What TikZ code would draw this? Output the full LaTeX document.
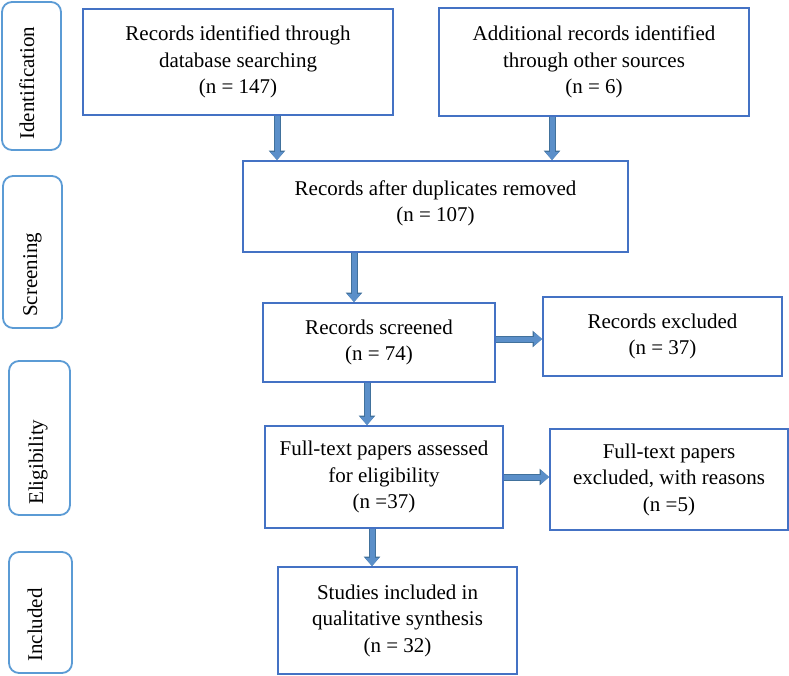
\documentclass[tikz,border=0pt]{standalone}
\usepackage{fontspec}
\setmainfont{Liberation Serif}
\usetikzlibrary{arrows.meta}
\definecolor{boxblue}{HTML}{4472C4}
\definecolor{sideblue}{HTML}{5B9BD5}
\definecolor{arrfill}{HTML}{5B8FC9}
\definecolor{arredge}{HTML}{41719C}
\begin{document}
\begin{tikzpicture}[x=1pt,y=-1pt,
  every node/.style={font=\fontsize{21}{26.5}\selectfont},
  mainbox/.style={draw=boxblue, line width=1.8pt, align=center, inner sep=0pt},
  sidebox/.style={draw=sideblue, line width=1.8pt, rounded corners=10pt, inner sep=0pt},
  sidetext/.style={rotate=90, anchor=base west, inner sep=0pt},
  blockarrow/.style={draw=arrfill, line width=5pt, -{Triangle[width=13pt,length=8pt]},
    preaction={draw=arredge, line width=7pt, -{Triangle[width=16pt,length=9.5pt]}}}
]
\fill[white] (0,0) rectangle (789,675);
\useasboundingbox (0,0) rectangle (789,675);

% side labels
\node[sidebox, minimum width=59pt, minimum height=148pt] (s1) at (31.5,76) {};
\node[sidebox, minimum width=59pt, minimum height=152pt] (s2) at (32.5,252) {};
\node[sidebox, minimum width=61pt, minimum height=154pt] (s3) at (39.5,438) {};
\node[sidebox, minimum width=63pt, minimum height=121pt] (s4) at (40.5,612.5) {};
\node[sidetext] (t1) at (34,140) {Identification};
\node[sidetext] (t2) at (37,317) {Screening};
\node[sidetext] (t3) at (43,505) {Eligibility};
\node[sidetext] (t4) at (42,662) {Included};

% main boxes
\node[mainbox, minimum width=310pt, minimum height=106pt] (b1) at (238,62)
  {Records identified through\\database searching\\(n = 147)};
\node[mainbox, minimum width=310pt, minimum height=108pt] (b2) at (594,62)
  {Additional records identified\\through other sources\\(n = 6)};
\node[mainbox, minimum width=385pt, minimum height=91pt] (b3) at (435.5,206.5)
  {Records after duplicates removed\\(n = 107)\\[-16pt]};
\node[mainbox, minimum width=232pt, minimum height=79pt] (b4) at (379,342.5)
  {Records screened\\(n = 74)};
\node[mainbox, minimum width=239pt, minimum height=79pt] (b4x) at (662.5,336.5)
  {Records excluded\\(n = 37)};
\node[mainbox, minimum width=238pt, minimum height=102pt] (b5) at (384,477)
  {Full-text papers assessed\\for eligibility\\(n =37)};
\node[mainbox, minimum width=238pt, minimum height=101pt] (b6) at (669,479.5)
  {Full-text papers\\excluded, with reasons\\(n =5)};
\node[mainbox, minimum width=239pt, minimum height=107pt] (b7) at (397.5,620.5)
  {Studies included in\\qualitative synthesis\\(n = 32)};

% arrow guide coordinates
\coordinate (x1) at (277,0);
\coordinate (x2) at (552,0);
\coordinate (x3) at (354,0);
\coordinate (x4) at (367,0);
\coordinate (x5) at (372,0);
\coordinate (y1) at (0,339);

\draw[blockarrow] (b1.south -| x1) -- (b3.north -| x1);
\draw[blockarrow] (b2.south -| x2) -- (b3.north -| x2);
\draw[blockarrow] (b3.south -| x3) -- (b4.north -| x3);
\draw[blockarrow] (b4.south -| x4) -- (b5.north -| x4);
\draw[blockarrow] (b5.south -| x5) -- (b7.north -| x5);
\draw[blockarrow] (b4.east |- y1) -- (b4x.west |- y1);
\draw[blockarrow] (b5.east) -- (b6.west |- b5.east);
\end{tikzpicture}
\end{document}
